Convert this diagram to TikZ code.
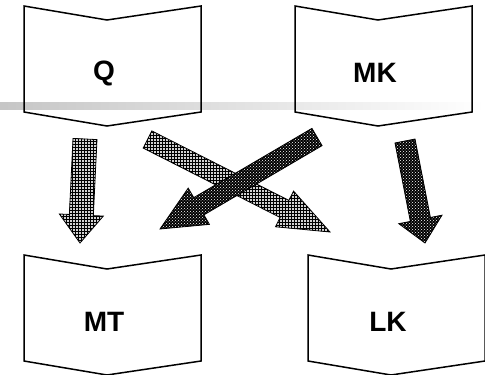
\documentclass[tikz,border=0pt]{standalone}
\usepackage{fontspec}
\setmainfont{Liberation Sans}
\usetikzlibrary{calc, patterns}

% block arrow: style, tail, tip, shaft half width, head half width, head length
\newcommand{\fatarrow}[6]{%
  \coordinate (neck) at ($(#3)!#6!(#2)$);
  \path[#1] ($(#2)!#4!90:(#3)$) -- ($(neck)!#4!90:(#3)$) -- ($(neck)!#5!90:(#3)$)
    -- (#3) -- ($(neck)!#5!-90:(#3)$) -- ($(neck)!#4!-90:(#3)$)
    -- ($(#2)!#4!-90:(#3)$) -- cycle;
}

\begin{document}
\begin{tikzpicture}[x=1pt,y=-1pt,
    card/.pic={
      \draw[line width=1.5pt, line join=miter]
        (0,0) -- (83,14) -- (177,0) -- (177,106) -- (83,120) -- (0,106) -- cycle;
      \node[font=\bfseries\fontsize{28}{32}\selectfont, inner sep=0pt] (-t) at (80,67) {\tikzpictext};
    },
    light/.style={draw=black, line width=0.8pt, line join=miter,
      preaction={fill=gray!35}, pattern=grid, pattern color=black},
    dark/.style={draw=black, line width=0.8pt, line join=miter,
      preaction={fill=black}, pattern=crosshatch dots, pattern color=white}]
    \useasboundingbox (0,0) rectangle (485,375);
    \shade[left color=gray!45, right color=white] (0,102) rectangle (485,109);

    \pic[pic text=Q] (q) at (24,6) {card};
    \pic[pic text=MK] (mk) at (295,6) {card};
    \pic[pic text=MT] (mt) at (24,255) {card};
    \pic[pic text=LK] (lk) at (308,255) {card};

    \coordinate (q-out1) at (85,139);
    \coordinate (mt-in1) at (80,243);
    \coordinate (q-out2) at (147.5,139.5);
    \coordinate (lk-in2) at (330,232);
    \coordinate (mk-out1) at (317,137);
    \coordinate (mt-in2) at (160,229);
    \coordinate (mk-out2) at (405,141);
    \coordinate (lk-in1) at (425,243);

    \fatarrow{light}{q-out1}{mt-in1}{12pt}{22pt}{28pt}
    \fatarrow{light}{q-out2}{lk-in2}{9.6pt}{20pt}{51pt}
    \fatarrow{dark}{mk-out1}{mt-in2}{10pt}{21pt}{45pt}
    \fatarrow{dark}{mk-out2}{lk-in1}{10.2pt}{22pt}{24pt}
\end{tikzpicture}
\end{document}
